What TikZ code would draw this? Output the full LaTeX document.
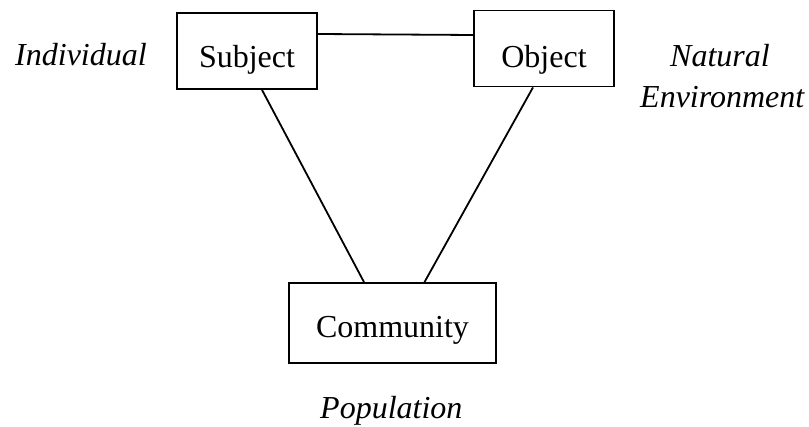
\documentclass[tikz,border=0pt]{standalone}
\usepackage{fontspec}
\setmainfont{Liberation Serif}
\begin{document}
\begin{tikzpicture}[x=1pt,y=-1pt,
  every node/.style={font=\fontsize{32}{38}\selectfont},
  box/.style={draw,line width=1.8pt,rectangle,inner sep=0pt,text depth=0pt},
  link/.style={line width=1.8pt},
  tag/.style={font=\fontsize{32}{38}\selectfont\itshape,anchor=base west,inner sep=0pt}]
  \useasboundingbox (0,0) rectangle (809,427);
  % boxes (text height sets where the baseline sits inside each box)
  \node[box,minimum width=140pt,minimum height=76pt,text height=34pt] (subj) at (247,51) {Subject};
  \node[box,minimum width=140pt,minimum height=76pt,text height=38pt] (obj) at (544,48.5) {Object};
  \node[box,minimum width=207pt,minimum height=80pt,text height=30pt] (comm) at (392.5,323) {Community};
  % connectors
  \draw[link] ([yshift=17pt]subj.east) -- ([yshift=13.5pt]obj.west);
  \draw[link] ([xshift=15pt]subj.south) -- ([xshift=-28.5pt]comm.north);
  \draw[link] ([xshift=-11pt]obj.south) -- ([xshift=32pt]comm.north);
  % labels
  \node[tag] (lind) at (15,66) {Individual};
  \node[tag] (lnat) at (670,67) {Natural};
  \node[tag] (lenv) at (640,108) {Environment};
  \node[tag] (lpop) at (320,419) {Population};
\end{tikzpicture}
\end{document}
